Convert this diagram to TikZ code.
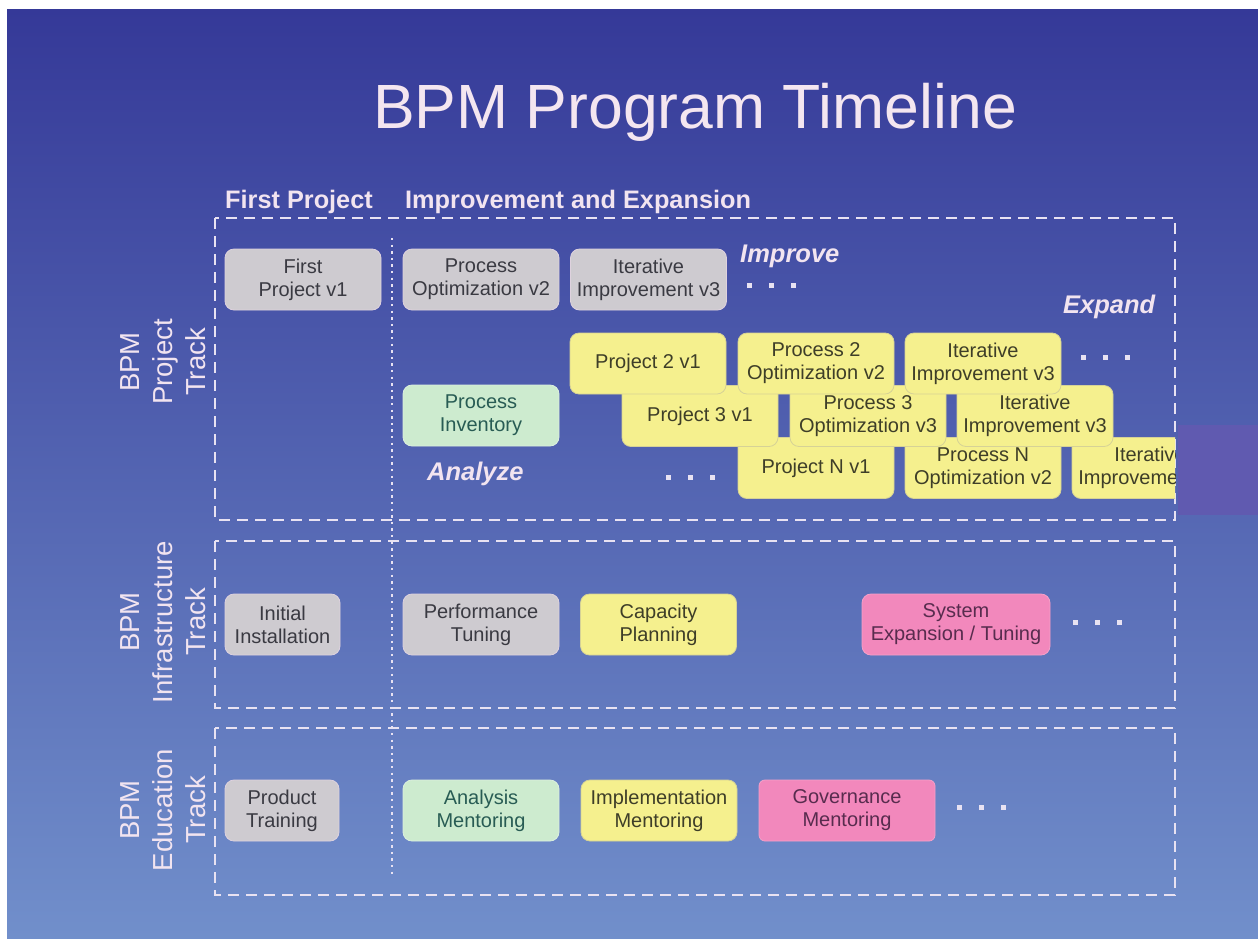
\documentclass[tikz,border=0pt]{standalone}
\usepackage{fontspec}
\setmainfont{Liberation Sans}
\definecolor{bgtop}{RGB}{53,57,152}
\definecolor{bgmid}{RGB}{76,96,180}
\definecolor{bgbot}{RGB}{113,143,203}
\definecolor{cpatch}{RGB}{96,90,176}
\definecolor{ctitle}{RGB}{244,230,240}
\definecolor{chead}{RGB}{242,228,240}
\definecolor{cdash}{RGB}{232,226,242}
\definecolor{cgray}{RGB}{206,203,208}
\definecolor{cgrayline}{RGB}{222,210,222}
\definecolor{cgraytext}{RGB}{58,58,66}
\definecolor{cyel}{RGB}{245,240,142}
\definecolor{cyelline}{RGB}{214,210,150}
\definecolor{cyeltext}{RGB}{62,62,40}
\definecolor{cgreen}{RGB}{205,235,207}
\definecolor{cgreenline}{RGB}{220,240,222}
\definecolor{cgreentext}{RGB}{40,92,84}
\definecolor{cpink}{RGB}{242,136,188}
\definecolor{cpinkline}{RGB}{246,160,200}
\definecolor{cpinktext}{RGB}{88,44,78}
\begin{document}
\begin{tikzpicture}[x=1pt,y=-1pt,
  box/.style={rounded corners=9pt, minimum width=156pt, minimum height=61pt,
    inner sep=0pt, align=center, font=\fontsize{20}{23}\selectfont, line width=0.8pt},
  graybox/.style={box, fill=cgray, draw=cgrayline, text=cgraytext},
  yelbox/.style={box, fill=cyel, draw=cyelline, text=cyeltext},
  greenbox/.style={box, fill=cgreen, draw=cgreenline, text=cgreentext},
  pinkbox/.style={box, fill=cpink, draw=cpinkline, text=cpinktext},
  trackbox/.style={draw=cdash, line width=2.2pt, dash pattern=on 11pt off 7pt},
  sepline/.style={draw=cdash, line width=2.4pt, dash pattern=on 2.4pt off 4.2pt},
  heading/.style={inner sep=0pt, anchor=base west, text=chead, font=\fontsize{25.3}{30}\selectfont\bfseries},
  phase/.style={inner sep=0pt, anchor=base west, text=chead, font=\fontsize{25.5}{30}\selectfont\bfseries\itshape},
  tracklabel/.style={inner sep=0pt, rotate=90, align=center, text=chead, font=\fontsize{27.5}{33}\selectfont},
  dots/.style={inner sep=0pt, text=cdash}
]
\useasboundingbox (0,0) rectangle (1258,938);
\fill[white] (0,0) rectangle (1258,938);
\shade[top color=bgtop, middle color=bgmid, bottom color=bgbot] (7,9) rectangle (1258,938);
\fill[cpatch] (1178,425) rectangle (1258,515);

% title and headings
\node[inner sep=0pt, anchor=base, text=ctitle, font=\fontsize{62.5}{70}\selectfont] (title) at (695,128) {BPM Program Timeline};
\node[heading] (hfirst) at (225,208) {First Project};
\node[heading] (himp) at (405,208) {Improvement and Expansion};

% separator between phases
\coordinate (septop) at (392,238);
\coordinate (sepbot) at (392,876);
\draw[sepline] (septop) -- (sepbot);

% track frames
\draw[trackbox] (215,218) rectangle (1175,520);
\draw[trackbox] (215,541) rectangle (1175,708);
\draw[trackbox] (215,728) rectangle (1175,895);

% track labels
\node[tracklabel] (tproj) at (163,362) {BPM\\Project\\Track};
\node[tracklabel] (tinfra) at (163,622) {BPM\\Infrastructure\\Track};
\node[tracklabel] (tedu) at (163,810) {BPM\\Education\\Track};

% project track: first row
\node[graybox] (fp1) at (303,279.5) {First\\Project v1};
\node[graybox] (po2) at (481,279.5) {Process\\Optimization v2};
\node[graybox] (ii3) at (648.5,279.5) {Iterative\\Improvement v3};
\node[phase] (limprove) at (740,262) {Improve};
\node[dots] (dimp) at (771,285.5) {\rule{5pt}{5pt}\hspace{17pt}\rule{5pt}{5pt}\hspace{17pt}\rule{5pt}{5pt}};
\node[phase] (lexpand) at (1063,313) {Expand};

% expansion rows (lower rows first, upper rows overlap them)
\begin{scope}
\clip (0,0) rectangle (1175,938);
\node[yelbox] (pNi) at (1150,468) {Iterative\\Improvement v3};
\end{scope}
\node[yelbox] (pN) at (816,468) {Project N v1};
\node[yelbox] (pNo) at (983,468) {Process N\\Optimization v2};

\node[yelbox] (p3) at (700,416) {Project 3 v1};
\node[yelbox] (p3o) at (868,416) {Process 3\\Optimization v3};
\node[yelbox] (p3i) at (1035,416) {Iterative\\Improvement v3};

\node[yelbox] (p2) at (648,363.5) {Project 2 v1};
\node[yelbox] (p2o) at (816,363.5) {Process 2\\Optimization v2};
\node[yelbox] (p2i) at (983,363.5) {Iterative\\Improvement v3};
\node[dots] (dexp) at (1105,357) {\rule{5pt}{5pt}\hspace{17pt}\rule{5pt}{5pt}\hspace{17pt}\rule{5pt}{5pt}};

\node[greenbox] (pinv) at (481,415.5) {Process\\Inventory};
\node[phase] (lanalyze) at (427,480) {Analyze};
\node[dots] (dN) at (690,477) {\rule{5pt}{5pt}\hspace{17pt}\rule{5pt}{5pt}\hspace{17pt}\rule{5pt}{5pt}};

% infrastructure track
\node[graybox, minimum width=115pt] (inst) at (282.5,624.5) {Initial\\Installation};
\node[graybox] (perf) at (481,624.5) {Performance\\Tuning};
\node[yelbox] (cap) at (658.5,624.5) {Capacity\\Planning};
\node[pinkbox, minimum width=188pt] (sys) at (956,624.5) {System\\Expansion / Tuning};
\node[dots] (dinf) at (1097,622.5) {\rule{5pt}{5pt}\hspace{17pt}\rule{5pt}{5pt}\hspace{17pt}\rule{5pt}{5pt}};

% education track
\node[graybox, minimum width=114pt] (prod) at (282,810.5) {Product\\Training};
\node[greenbox] (anm) at (481,810.5) {Analysis\\Mentoring};
\node[yelbox] (imm) at (659,810.5) {Implementation\\Mentoring};
\node[pinkbox, minimum width=176pt, rounded corners=6pt] (gov) at (847,810.5) {Governance\\Mentoring};
\node[dots] (dedu) at (981,807.5) {\rule{5pt}{5pt}\hspace{17pt}\rule{5pt}{5pt}\hspace{17pt}\rule{5pt}{5pt}};
\end{tikzpicture}
\end{document}
